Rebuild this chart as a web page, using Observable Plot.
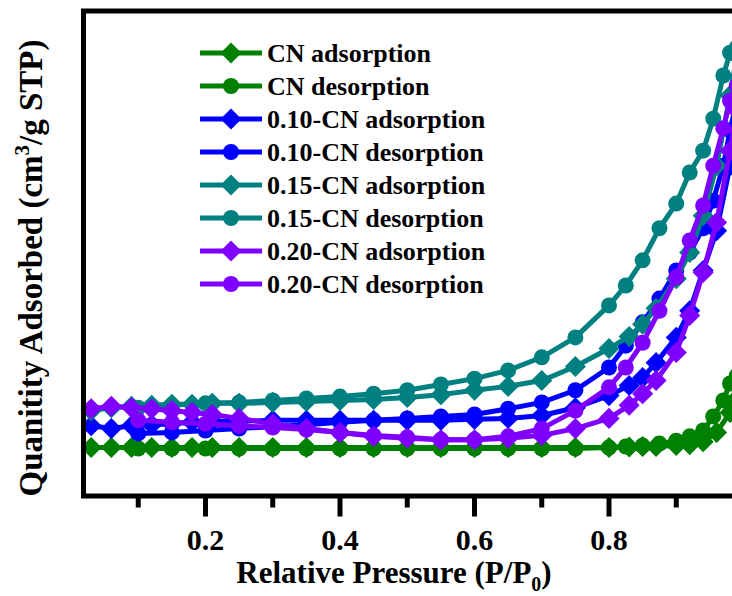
<!DOCTYPE html>
<html><head><meta charset="utf-8">
<script src="https://cdn.jsdelivr.net/npm/d3@7"></script>
<script src="https://cdn.jsdelivr.net/npm/@observablehq/plot@0.6"></script>
<style>
html,body{margin:0;padding:0;background:#fff;overflow:hidden;width:732px;height:596px}
#chart{position:relative;width:732px;height:596px;overflow:hidden}
#chart svg{max-width:none !important;width:765px;height:596px}
#chart svg text{font-family:"Liberation Serif","Times New Roman",Times,"DejaVu Serif",serif !important;font-weight:bold}
</style></head><body><div id="chart"></div>
<script>
// Relative pressure points (P/P0)
const adsX = [0.03,0.06,0.09,0.12,0.15,0.18,0.21,0.25,0.3,0.35,0.4,0.45,0.5,0.55,0.6,0.65,0.7,0.75,0.8,0.83,0.85,0.87,0.9,0.92,0.94,0.96,0.98,0.99];
const desX = [0.99,0.98,0.97,0.955,0.94,0.92,0.9,0.875,0.85,0.825,0.8,0.75,0.7,0.65,0.6,0.55,0.5,0.45,0.4,0.35,0.3,0.25,0.2,0.15,0.1];

// Quantity adsorbed (arbitrary units, axis unlabeled)
const cnAds = [10.0,10.0,10.0,10.0,10.0,10.0,10.0,10.0,10.0,10.0,10.0,10.0,10.0,10.0,10.0,10.0,10.0,10.0,10.0,10.1,10.2,10.2,10.4,10.6,11.2,13.1,17.2,20.1];
const cnDes = [24.8,23.2,19.7,16.4,13.5,12.3,11.4,10.8,10.4,10.2,10.0,9.8,9.8,9.8,9.8,9.8,9.8,9.8,9.8,9.8,9.8,9.8,9.8,9.8,9.8];
const cn10Ads = [14.5,13.9,14.5,14.7,14.9,15.2,15.4,15.4,15.6,15.6,15.6,15.6,15.6,15.6,15.8,16.0,16.6,18.2,20.7,22.8,24.4,27.5,32.7,38.2,46.5,54.7,68.1,76.3];
const cn10Des = [81.5,75.4,68.1,60.9,55.2,50.2,46.5,40.7,35.8,31.0,26.5,21.8,19.3,18.0,16.8,16.4,16.0,15.6,15.2,14.7,14.3,13.9,13.5,13.1,12.9];
const cn15Ads = [17.6,18.2,18.5,18.7,18.9,18.9,19.1,19.1,19.3,19.5,19.7,19.9,20.3,20.9,21.8,22.6,23.8,26.7,30.4,32.9,35.4,38.7,44.8,50.2,57.8,68.1,82.6,90.8];
const cn15Des = [92.5,91.4,86.7,77.8,71.2,66.7,60.3,55.2,48.6,43.4,39.3,32.7,28.6,25.9,24.2,23.0,21.8,21.1,20.5,20.1,19.7,19.3,19.1,18.7,18.2];
const cn20Ads = [18.0,18.5,18.2,18.0,17.6,17.2,16.8,16.0,14.9,13.9,13.1,12.3,11.9,11.6,11.6,11.9,12.5,13.9,16.0,18.7,21.1,23.8,29.6,37.2,46.1,56.4,71.2,79.5];
const cn20Des = [84.6,81.5,75.8,68.1,59.9,52.7,45.1,38.2,31.6,26.5,22.4,17.6,13.9,12.3,11.6,11.6,12.1,12.5,13.1,13.7,14.1,14.5,14.9,15.2,15.6];

const seriesNames = ["CN adsorption","CN desorption","0.10-CN adsorption","0.10-CN desorption","0.15-CN adsorption","0.15-CN desorption","0.20-CN adsorption","0.20-CN desorption"];
const seriesColors = ["#008000","#008000","#0000ff","#0000ff","#008080","#008080","#8000ff","#8000ff"];
const seriesSymbols = ["diamond2","circle","diamond2","circle","diamond2","circle","diamond2","circle"];
const seriesX = [adsX,desX,adsX,desX,adsX,desX,adsX,desX];
const seriesY = [cnAds,cnDes,cn10Ads,cn10Des,cn15Ads,cn15Des,cn20Ads,cn20Des];

const majorTicks = [0.2,0.4,0.6,0.8,1.0];
const majorLabels = [0.2,0.4,0.6,0.8];
const minorTicks = [0.1,0.3,0.5,0.7,0.9];
const xTitle = ["Relative Pressure (P/P","0",")"];
const yTitle = ["Quanitity Adsorbed (cm","3","/g STP)"];

const FONT = "Liberation Serif, Times New Roman, serif";
const R = {diamond2: 9.5, circle: 8};

const marks = [];
seriesNames.forEach((name, k) => {
  const data = seriesX[k].map((x, i) => ({x, y: seriesY[k][i], name}));
  marks.push(Plot.line(data, {x: "x", y: "y", stroke: seriesColors[k], strokeWidth: 5}));
  marks.push(Plot.dot(data, {x: "x", y: "y", fill: seriesColors[k], symbol: seriesSymbols[k], r: R[seriesSymbols[k]]}));
});
marks.push(Plot.frame({strokeWidth: 5, stroke: "black"}));
marks.push(Plot.axisX(minorTicks, {tickSize: 12, strokeWidth: 5, tickFormat: () => "", label: null}));
marks.push(Plot.axisX(majorTicks, {tickSize: 21, strokeWidth: 5, tickFormat: () => "", label: null}));
marks.push(Plot.axisX(majorLabels, {tickSize: 0, tickPadding: 33, tickFormat: d => d.toFixed(1), fontSize: 30, fontWeight: "bold", fontFamily: FONT, label: null}));

const chart = Plot.plot({
  width: 765, height: 596,
  marginLeft: 83, marginRight: 22, marginTop: 10.5, marginBottom: 100.5,
  x: {domain: [0.0186, 1.0], label: null},
  y: {domain: [0, 100], axis: null},
  style: {background: "white", color: "black", overflow: "visible", maxWidth: "none"},
  marks
});
document.getElementById("chart").appendChild(chart);

const svg = d3.select(chart);
// x title
const xt = svg.append("text").attr("x", 394).attr("y", 583).attr("text-anchor", "middle")
  .attr("font-size", 31).attr("fill", "black");
xt.append("tspan").text(xTitle[0]);
xt.append("tspan").attr("font-size", 20).attr("dy", 8).text(xTitle[1]);
xt.append("tspan").attr("dy", -8).text(xTitle[2]);
// y title
const yt = svg.append("text").attr("transform", "translate(42,268) rotate(-90)").attr("text-anchor", "middle")
  .attr("font-size", 33).attr("fill", "black");
yt.append("tspan").text(yTitle[0]);
yt.append("tspan").attr("font-size", 21).attr("dy", -13).text(yTitle[1]);
yt.append("tspan").attr("dy", 13).text(yTitle[2]);

// legend
const lg = svg.append("g").attr("transform", "translate(200,53)");
seriesNames.forEach((name, k) => {
  const g = lg.append("g").attr("transform", `translate(0,${k * 33})`);
  g.append("line").attr("x1", 0).attr("x2", 62).attr("y1", 0).attr("y2", 0)
    .attr("stroke", seriesColors[k]).attr("stroke-width", 5);
  const sym = seriesSymbols[k] === "circle" ? d3.symbolCircle : d3.symbolDiamond2;
  const rr = R[seriesSymbols[k]];
  g.append("path").attr("transform", "translate(31,0)")
    .attr("d", d3.symbol(sym, Math.PI * rr * rr)()).attr("fill", seriesColors[k]);
  g.append("text").attr("x", 67).attr("y", 9).attr("text-anchor", "start")
    .attr("font-size", 26).attr("fill", "black").text(name);
});
</script></body></html>
